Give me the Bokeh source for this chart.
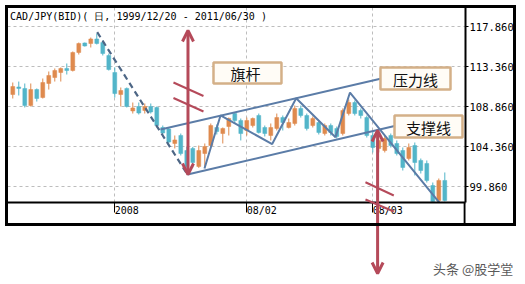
from bokeh.plotting import figure
from bokeh.layouts import column
from bokeh.models import (FixedTicker, Arrow, OpenHead, BoxAnnotation, Label,
                          ColumnDataSource, Range1d, Div)
from bokeh.embed import file_html
from bokeh.resources import INLINE

# ---------------- data (daily CAD/JPY candles, late 2007 - Mar 2008) ----------------
opens = [110.21, 111.06, 110.89, 108.97, 110.77, 109.87, 111.45, 112.12, 112.69, 113.14,
         112.91, 114.94, 116.01, 115.95, 116.46, 116.06, 114.60, 112.69, 110.21, 110.89,
         108.36, 108.86, 108.41, 108.86, 108.75, 106.50, 106.33, 104.70, 105.60, 103.91,
         104.14, 102.11, 103.57, 104.47, 106.50, 105.82, 106.61, 108.07, 107.29, 106.16,
         106.72, 107.85, 106.50, 105.60, 106.39, 107.62, 106.50, 106.95, 108.64, 107.85,
         106.72, 107.06, 105.82, 106.72, 106.39, 105.82, 108.07, 109.31, 108.41, 107.62,
         105.60, 104.14, 103.91, 105.60, 104.70, 103.91, 103.01, 104.47, 102.79, 102.45,
         99.97, 98.29, 100.54]
highs = [111.56, 111.67, 111.45, 111.45, 110.89, 112.01, 112.80, 113.14, 113.25, 113.70,
         115.05, 116.06, 116.06, 116.62, 117.07, 116.29, 114.82, 113.25, 111.00, 111.00,
         109.31, 109.31, 109.20, 109.20, 108.86, 106.72, 106.50, 105.60, 105.82, 104.36,
         104.31, 104.47, 104.70, 106.95, 106.84, 106.50, 107.62, 108.19, 107.51, 107.62,
         107.62, 108.07, 106.72, 106.95, 108.07, 107.85, 107.51, 108.97, 108.97, 108.07,
         107.74, 107.29, 106.95, 106.95, 106.61, 108.64, 109.65, 109.54, 108.64, 107.85,
         106.16, 105.37, 105.60, 105.82, 105.04, 104.25, 104.70, 104.81, 103.01, 102.79,
         100.31, 100.76, 101.44]
lows = [109.76, 110.10, 108.75, 108.86, 109.42, 109.76, 110.77, 111.67, 111.67, 112.46,
        112.80, 114.71, 115.61, 115.50, 115.84, 114.60, 112.91, 109.87, 108.86, 108.75,
        108.07, 107.96, 108.07, 108.07, 106.50, 105.71, 104.70, 104.14, 103.35, 101.21,
        102.00, 101.95, 102.06, 104.36, 105.71, 104.70, 105.60, 106.95, 105.04, 105.60,
        106.50, 105.82, 105.49, 105.04, 106.16, 106.16, 106.39, 106.72, 107.62, 106.16,
        106.50, 105.71, 105.60, 105.60, 105.26, 105.60, 107.85, 107.85, 107.51, 105.37,
        103.69, 103.69, 103.69, 104.25, 103.35, 101.66, 102.79, 101.10, 101.32, 100.31,
        98.06, 98.17, 98.17]
closes = [111.11, 110.89, 108.97, 110.77, 109.76, 111.56, 112.35, 112.91, 113.14, 112.91,
          114.94, 115.95, 115.67, 116.46, 115.95, 114.82, 113.02, 110.32, 110.66, 108.86,
          108.70, 108.13, 108.86, 108.25, 106.72, 105.88, 104.87, 105.10, 103.57, 102.11,
          102.56, 103.91, 104.36, 106.72, 106.05, 106.39, 107.51, 107.29, 105.82, 107.29,
          107.51, 105.94, 105.82, 106.50, 107.62, 107.06, 107.06, 108.64, 107.85, 106.39,
          107.51, 105.94, 106.72, 105.94, 105.49, 108.41, 109.31, 108.07, 107.85, 105.60,
          104.25, 105.04, 105.26, 104.47, 103.57, 102.00, 104.25, 102.56, 101.66, 100.54,
          98.17, 100.54, 98.29]

x_tick_idx = [17, 39, 60]
x_tick_labels = ["2008", "08/02", "08/03"]
y_ticks = [99.86, 104.36, 108.86, 113.36, 117.86]
y_tick_labels = ["99.860", "104.360", "108.860", "113.360", "117.860"]

title_text = "CAD/JPY(BID)( 日, 1999/12/20 - 2011/06/30 )"
watermark = "头条 @股学堂"

# annotation lines (bar index, price)
pole_dash_x = [14.07, 29.12]
pole_dash_y = [117.22, 101.21]
upper_x = [24.62, 61.45]
upper_y = [106.27, 112.01]
lower_x = [29.12, 63.62]
lower_y = [101.21, 106.67]
zig_x = [31.95, 34.62, 43.23, 47.23, 53.78, 56.20, 71.28]
zig_y = [101.885, 107.85, 104.64, 109.79, 105.41, 110.435, 97.89]

# ---------------- styles / geometry ----------------
UP = "#df8a4e"
DOWN = "#52b5c9"
LINE = "#5b7ca7"
DASH = "#4d6685"
RED = "#b54a5a"
MONO = "DejaVu Sans Mono"
CJK = "Noto Sans CJK SC"

W, H = 525, 284
BL, BR, BT, BB = 7, 60, 7, 82
X0, X1 = -0.88, 75.45
Y0, Y1 = 98.06, 120.0

n = len(opens)
xs = list(range(n))
colors = [UP if c >= o else DOWN for o, c in zip(opens, closes)]
src = ColumnDataSource(dict(
    x=xs, h=highs, l=lows,
    top=[max(o, c) for o, c in zip(opens, closes)],
    bottom=[min(o, c) for o, c in zip(opens, closes)],
    color=colors))

p = figure(width=W, height=H, x_range=Range1d(X0, X1), y_range=Range1d(Y0, Y1),
           y_axis_location="right", output_backend="svg", toolbar_location=None,
           min_border_left=BL, min_border_right=BR, min_border_top=BT, min_border_bottom=BB)
p.outline_line_color = None
p.background_fill_color = "white"
p.border_fill_color = "white"

# axes
p.xaxis.ticker = FixedTicker(ticks=x_tick_idx)
# labels start at their tick: pad on the left with no-break spaces (monospace font)
p.xaxis.major_label_overrides = {t: "\u00a0" * len(s) + s for t, s in zip(x_tick_idx, x_tick_labels)}
p.yaxis.ticker = FixedTicker(ticks=y_ticks)
p.yaxis.major_label_overrides = dict(zip(y_ticks, y_tick_labels))
for ax in (p.xaxis[0], p.yaxis[0]):
    ax.axis_line_width = 2
    ax.axis_line_color = "black"
    ax.major_tick_in = 0
    ax.minor_tick_line_color = None
    ax.major_tick_line_color = "black"
    ax.major_label_text_font = MONO
    ax.major_label_text_color = "black"
p.xaxis.major_label_text_font_size = "10px"
p.yaxis.major_label_text_font_size = "10.5px"
p.xaxis.major_tick_out = 10
p.xaxis.major_label_standoff = -8
p.yaxis.major_tick_out = 3
p.yaxis.major_label_standoff = 1

p.xgrid.ticker = FixedTicker(ticks=x_tick_idx)
p.ygrid.ticker = FixedTicker(ticks=y_ticks)
for g in (p.xgrid[0], p.ygrid[0]):
    g.grid_line_color = "#bdbdbd"
    g.grid_line_dash = "3 3"
    g.grid_line_width = 1

# candles
p.segment(x0="x", y0="h", x1="x", y1="l", line_color="color", line_width=1, source=src)
p.vbar(x="x", top="top", bottom="bottom", width=0.65, fill_color="color",
       line_color="color", line_width=0.5, source=src)

# trend lines
p.line(pole_dash_x, pole_dash_y, line_color=DASH, line_width=2.2, line_dash="6 4")
p.line(upper_x, upper_y, line_color=LINE, line_width=2)
p.line(lower_x, lower_y, line_color=LINE, line_width=2)
p.line(zig_x, zig_y, line_color=LINE, line_width=2)


def head():
    return OpenHead(size=11, line_color=RED, line_width=3)


# flag pole arrow
p.add_layout(Arrow(x_start=29.2, y_start=101.21, x_end=29.2, y_end=117.41,
                   start=head(), end=head(), line_color=RED, line_width=3))
for (xa, ya, xb, yb) in [(26.78, 111.56, 31.78, 110.04), (26.78, 109.82, 31.78, 108.30)]:
    p.add_layout(Arrow(x_start=xa, y_start=ya, x_end=xb, y_end=yb, end=None,
                       line_color=RED, line_width=2))

# label boxes
for (l, r, t, b, tx, ty, txt) in [(33.45, 44.78, 113.81, 111.45, 38.78, 112.63, "旗杆"),
                                   (61.28, 72.95, 113.25, 110.77, 67.12, 111.95, "压力线"),
                                   (63.62, 74.95, 107.85, 105.37, 69.28, 106.50, "支撑线")]:
    p.add_layout(BoxAnnotation(left=l, right=r, top=t, bottom=b, fill_color="#fffcf6",
                               fill_alpha=1, line_color="#d4b088", line_alpha=1,
                               line_width=2.5))
    p.add_layout(Label(x=tx, y=ty, text=txt, text_align="center", text_baseline="middle",
                       text_font=CJK, text_font_size="15px", text_color="#111111"))

# title inside the chart
p.add_layout(Label(x=-0.45, y=118.985, text=title_text, text_align="left",
                   text_baseline="middle", text_font=MONO, text_font_size="10px",
                   text_color="black"))

# ---------- transparent overlay (same x scale, full height) for marks running below the chart ----------
sy = (H - BT - BB) / (Y1 - Y0)
q = figure(width=W, height=H, x_range=p.x_range,
           y_range=Range1d(Y0 - BB / sy, Y1 + BT / sy),
           x_axis_location=None, y_axis_location=None,
           output_backend="svg", toolbar_location=None,
           min_border_left=BL, min_border_right=BR, min_border_top=0, min_border_bottom=0)
q.grid.visible = False
q.outline_line_color = None
q.background_fill_alpha = 0
q.border_fill_alpha = 0
q.margin = (-H, 0, 0, 0)

# y-axis line continues down to the outer frame
q.line([X1 - 0.1, X1 - 0.1], [Y0, 95.47], line_color="black", line_width=2.5)

# breakout measurement arrow (runs below the chart)
q.add_layout(Arrow(x_start=60.8, y_start=90.07, x_end=60.8, y_end=106.16,
                   start=head(), end=head(), line_color=RED, line_width=3))
for (xa, ya, xb, yb) in [(58.78, 100.34, 63.50, 98.85), (58.78, 98.40, 63.50, 97.05)]:
    q.add_layout(Arrow(x_start=xa, y_start=ya, x_end=xb, y_end=yb, end=None,
                       line_color=RED, line_width=2))

# ---------- outer chart frame and watermark ----------
deco = Div(width=W, height=H, margin=(-H, 0, 0, 0), text=(
    '<div style="position:relative;width:525px;height:284px;pointer-events:none">'
    '<div style="position:absolute;left:5px;top:5px;width:511px;height:221px;'
    'box-sizing:border-box;border:3px solid #000"></div>'
    '<div style="position:absolute;left:433px;top:261px;white-space:nowrap;'
    "font-family:'Noto Sans CJK SC';font-size:13px;line-height:16px;color:#5a5a5a\">"
    + watermark + '</div></div>'))

layout = column(p, q, deco, spacing=0)
open("out.html", "w").write(file_html(layout, INLINE))
